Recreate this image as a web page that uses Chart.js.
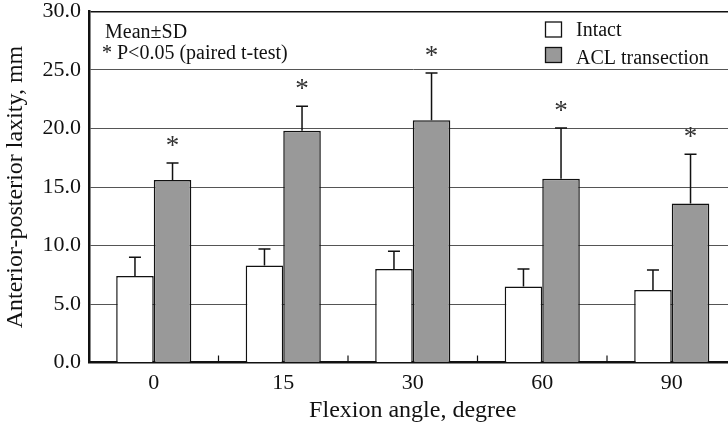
<!DOCTYPE html>
<html>
<head>
<meta charset="utf-8">
<script src="https://cdn.jsdelivr.net/npm/chart.js@4.4.1/dist/chart.umd.min.js"></script>
<style>
html,body{margin:0;padding:0;background:#fff;overflow:hidden;width:728px;height:427px;}
canvas{display:block;}
</style>
</head>
<body>
<canvas id="c" width="740" height="427"></canvas>
<script>
const categories = ['0', '15', '30', '60', '90'];
const intactMean = [7.4, 8.3, 8.0, 6.5, 6.2];
const intactSD   = [1.6, 1.4, 1.5, 1.5, 1.7];
const aclMean    = [15.6, 19.8, 20.7, 15.7, 13.6];
const aclSD      = [1.45, 2.1, 4.05, 4.35, 4.2];
const significant = [true, true, true, true, true];
const yTicks = [0, 5, 10, 15, 20, 25, 30];
const seriesNames = ['Intact', 'ACL transection'];
const noteLines = ['Mean\u00B1SD', '* P<0.05 (paired t-test)'];
const xTitle = 'Flexion angle, degree';
const yTitle = 'Anterior-posterior laxity, mm';

const FONT = '"Liberation Serif", "Times New Roman", serif';
const sdLists = [intactSD, aclSD];

const errorBars = {
  id: 'errorBars',
  afterDatasetsDraw(chart) {
    const ctx = chart.ctx;
    const y = chart.scales.y;
    ctx.save();
    ctx.strokeStyle = '#111';
    ctx.lineWidth = 1.5;
    chart.data.datasets.forEach((ds, di) => {
      const meta = chart.getDatasetMeta(di);
      meta.data.forEach((bar, i) => {
        const top = y.getPixelForValue(ds.data[i] + sdLists[di][i]);
        const base = y.getPixelForValue(ds.data[i]);
        ctx.beginPath();
        ctx.moveTo(bar.x, base);
        ctx.lineTo(bar.x, top);
        ctx.moveTo(bar.x - 6, top);
        ctx.lineTo(bar.x + 6, top);
        ctx.stroke();
        if (di === 1 && significant[i]) {
          ctx.fillStyle = '#333';
          ctx.font = '27px ' + FONT;
          ctx.textAlign = 'center';
          ctx.textBaseline = 'middle';
          ctx.fillText('*', bar.x, top - 16);
        }
      });
    });
    // inner tick marks between categories
    const x = chart.scales.x;
    const bottom = chart.chartArea.bottom;
    ctx.lineWidth = 1.2;
    for (let i = 0; i < categories.length - 1; i++) {
      const px = (x.getPixelForValue(i) + x.getPixelForValue(i + 1)) / 2;
      ctx.beginPath();
      ctx.moveTo(px, bottom);
      ctx.lineTo(px, bottom - 7);
      ctx.stroke();
    }
    ctx.restore();
  }
};

const annotations = {
  id: 'annotations',
  afterDraw(chart) {
    const ctx = chart.ctx;
    ctx.save();
    ctx.fillStyle = '#111';
    ctx.font = '20px ' + FONT;
    ctx.textAlign = 'left';
    ctx.textBaseline = 'middle';
    ctx.fillText(noteLines[0], 105, 33);
    ctx.fillText(noteLines[1], 102, 54);
    // legend
    const boxTops = [22, 47.5];
    const textRows = [31, 59];
    chart.data.datasets.forEach((ds, di) => {
      ctx.fillStyle = ds.backgroundColor;
      ctx.strokeStyle = '#111';
      ctx.lineWidth = 1.3;
      ctx.fillRect(545.5, boxTops[di], 16, 15);
      ctx.strokeRect(545.5, boxTops[di], 16, 15);
      ctx.fillStyle = '#111';
      ctx.fillText(ds.label, 576, textRows[di]);
    });
    ctx.restore();
  }
};

new Chart(document.getElementById('c'), {
  type: 'bar',
  data: {
    labels: categories,
    datasets: [
      { label: seriesNames[0], data: intactMean, backgroundColor: '#ffffff', borderColor: '#111', borderWidth: 1.5 },
      { label: seriesNames[1], data: aclMean, backgroundColor: '#999999', borderColor: '#111', borderWidth: 1.5 }
    ]
  },
  options: {
    responsive: false,
    animation: false,
    layout: { padding: { top: 11.5, right: 3.5, left: 0, bottom: 0 } },
    datasets: { bar: { categoryPercentage: 0.58, barPercentage: 1.0 } },
    plugins: { legend: { display: false }, tooltip: { enabled: false } },
    scales: {
      x: {
        grid: { color: 'rgba(0,0,0,0)', drawTicks: false },
        border: { display: true, color: '#111', width: 2.5 },
        ticks: { color: '#111', font: { family: FONT, size: 22 }, padding: 8 },
        title: { display: true, text: xTitle, color: '#111', font: { family: FONT, size: 24 }, padding: { top: 0, bottom: 2 } },
        afterFit(s) { s.height = 64.5; s.paddingLeft = 0; s.paddingRight = 0; }
      },
      y: {
        min: 0, max: 30,
        afterBuildTicks(s) { s.ticks = yTicks.map(v => ({ value: v })); },
        grid: {
          color: c => c.tick && c.tick.value === 30 ? '#111' : '#555',
          lineWidth: c => c.tick && c.tick.value === 30 ? 1.5 : 1,
          drawTicks: false
        },
        border: { display: true, color: '#111', width: 2.5 },
        ticks: { color: '#111', font: { family: FONT, size: 22 }, padding: 8, callback: v => Number(v).toFixed(1) },
        title: { display: true, text: yTitle, color: '#111', font: { family: FONT, size: 24 }, padding: { top: 1, bottom: 0 } },
        afterFit(s) { s.width = 89; s.paddingTop = 0; s.paddingBottom = 0; }
      }
    }
  },
  plugins: [errorBars, annotations]
});
</script>
</body>
</html>
